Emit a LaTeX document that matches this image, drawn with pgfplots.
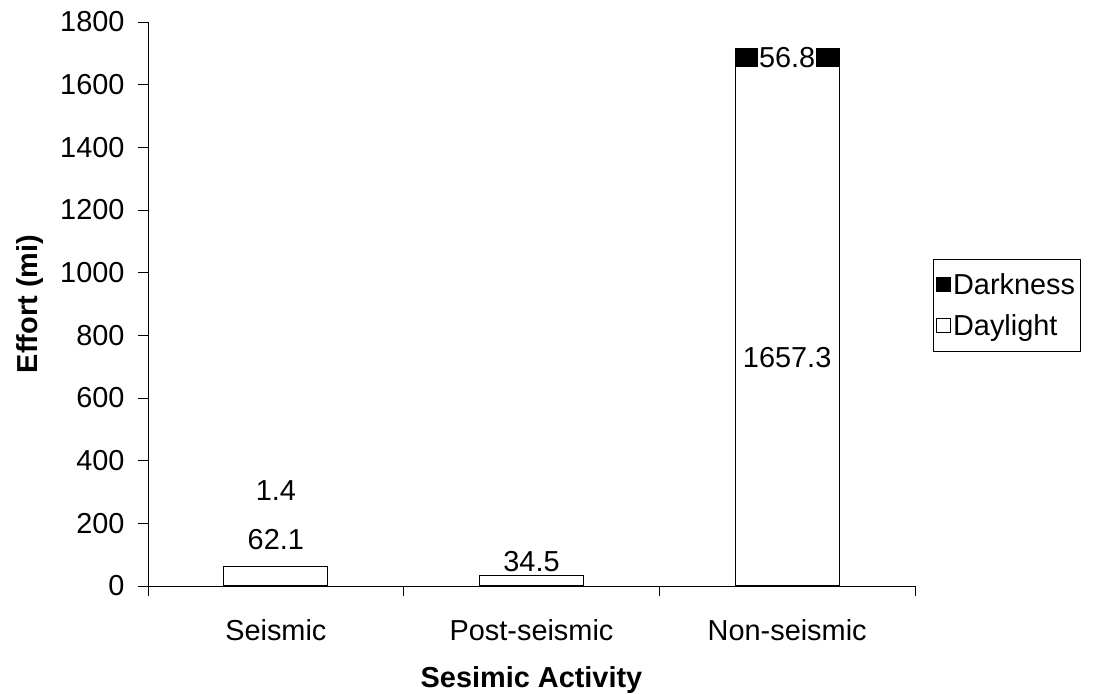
\documentclass[border=0pt]{standalone}
\usepackage{fontspec}
\setmainfont{Liberation Sans}
\usepackage{pgfplots}
\pgfplotsset{compat=1.18}
\newcommand{\bigf}{\fontsize{29}{34}\selectfont}
\begin{document}
\begin{tikzpicture}
\useasboundingbox (0,0) rectangle (1094bp,694bp);
\begin{axis}[
  at={(148bp,108bp)}, anchor=south west,
  scale only axis, width=767bp, height=564bp,
  xmin=-0.5, xmax=2.5, ymin=0, ymax=1800,
  ybar stacked, bar width=104bp,
  axis x line=bottom, axis y line=left,
  axis line style={black, line width=0.8pt, -},
  xtick={0,1,2}, xticklabels={Seismic,Post-seismic,Non-seismic},
  major x tick style={draw=none},
  minor xtick={-0.5,0.5,1.5,2.5},
  minor tick length=10bp, major tick length=10bp,
  tick align=outside,
  ytick={0,200,...,1800},
  tick style={black, line width=0.8pt},
  /pgf/number format/assume math mode=true,
  /pgf/number format/1000 sep={},
  ticklabel style={font=\bigf},
  yticklabel style={xshift=-10bp},
  xticklabel style={yshift=-20bp},
  xlabel={\textbf{Sesimic Activity}},
  ylabel={\textbf{Effort (mi)}},
  label style={font=\bigf},
  xlabel style={yshift=-19bp},
  ylabel style={yshift=10bp},
  legend style={at={(1.0235,0.58)}, anchor=north west, draw=black, line width=0.6pt,
    font=\bigf, row sep=15bp, inner xsep=3bp, inner ysep=12bp},
  legend cell align=left,
  reverse legend,
  legend image code/.code={\draw[#1, line width=0.8pt] (0bp,-7bp) rectangle (14bp,7bp);},
  every axis plot/.append style={draw=black, line width=1.2pt},
  clip=false,
]
\addplot[fill=white] coordinates {(0,62.1) (1,34.5) (2,1657.3)};
\addplot[fill=black] coordinates {(0,1.4) (1,0) (2,56.8)};
\legend{Daylight,Darkness}
\coordinate (la) at (axis cs:0,147);
\coordinate (lb) at (axis cs:0,306);
\coordinate (lc) at (axis cs:1,77);
\coordinate (ld) at (axis cs:2,728);
\coordinate (le) at (axis cs:2,1685.7);
\end{axis}
\node[font=\bigf] at (la) {62.1};
\node[font=\bigf] at (lb) {1.4};
\node[font=\bigf] at (lc) {34.5};
\node[font=\bigf] at (ld) {1657.3};
\node[font=\bigf, fill=white, inner sep=1bp] at (le) {56.8};
\end{tikzpicture}
\end{document}
